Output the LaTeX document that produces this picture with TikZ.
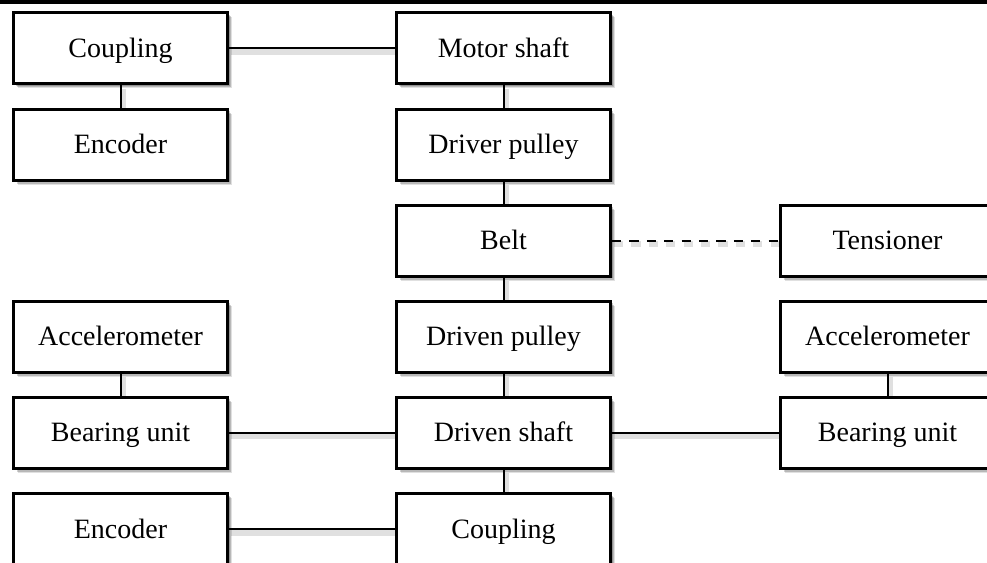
\documentclass[tikz,border=0pt]{standalone}
\usepackage{fontspec}
\setmainfont{Liberation Serif}
\usetikzlibrary{shadows,backgrounds}
\begin{document}
\begin{tikzpicture}[x=0.5pt,y=-0.5pt,
  box/.style={draw, line width=1.5pt, fill=white, minimum width=107pt, minimum height=35.5pt,
    inner sep=0pt, text height=9.3pt, text depth=0pt, font=\fontsize{14}{16}\selectfont,
    drop shadow={shadow xshift=2.2pt, shadow yshift=-2.4pt, opacity=0.12, fill=black},
    drop shadow={shadow xshift=1.6pt, shadow yshift=-1.8pt, opacity=0.18, fill=black},
    drop shadow={shadow xshift=1pt, shadow yshift=-1.2pt, opacity=0.2, fill=black}},
  link/.style={line width=1pt},
  dashlink/.style={line width=1pt, dash pattern=on 4.6pt off 4.1pt},
  linkshadow/.style={line width=3pt, black!12, transform canvas={xshift=1pt,yshift=-1.8pt}}]
\useasboundingbox (0,0) rectangle (987,563);
\fill (0,0) rectangle (987,4);
% left column
\node[box] (L1) at (120.5,48) {Coupling};
\node[box] (L2) at (120.5,144.5) {Encoder};
\node[box] (L4) at (120.5,336.5) {Accelerometer};
\node[box] (L5) at (120.5,432.5) {Bearing unit};
\node[box] (L6) at (120.5,529) {Encoder};
% middle column
\node[box] (M1) at (503.5,48) {Motor shaft};
\node[box] (M2) at (503.5,144.5) {Driver pulley};
\node[box] (M3) at (503.5,240.5) {Belt};
\node[box] (M4) at (503.5,336.5) {Driven pulley};
\node[box] (M5) at (503.5,432.5) {Driven shaft};
\node[box] (M6) at (503.5,529) {Coupling};
% right column
\node[box] (R3) at (887.5,240.5) {Tensioner};
\node[box] (R4) at (887.5,336.5) {Accelerometer};
\node[box] (R5) at (887.5,432.5) {Bearing unit};
% connector shadows
\begin{scope}[on background layer]
\draw[linkshadow] (L1) -- (M1);
\draw[linkshadow] (L1) -- (L2);
\draw[linkshadow] (M1) -- (M2);
\draw[linkshadow] (M2) -- (M3);
\draw[linkshadow] (M3) -- (M4);
\draw[linkshadow] (M4) -- (M5);
\draw[linkshadow] (M5) -- (M6);
\draw[linkshadow] (L4) -- (L5);
\draw[linkshadow] (R4) -- (R5);
\draw[linkshadow] (L5) -- (M5);
\draw[linkshadow] (M5) -- (R5);
\draw[linkshadow] (L6) -- (M6);
\draw[linkshadow, dash pattern=on 4.6pt off 4.1pt] (M3) -- (R3);
\end{scope}
% connectors
\draw[link] (L1) -- (M1);
\draw[link] (L1) -- (L2);
\draw[link] (M1) -- (M2);
\draw[link] (M2) -- (M3);
\draw[link] (M3) -- (M4);
\draw[link] (M4) -- (M5);
\draw[link] (M5) -- (M6);
\draw[link] (L4) -- (L5);
\draw[link] (R4) -- (R5);
\draw[link] (L5) -- (M5);
\draw[link] (M5) -- (R5);
\draw[link] (L6) -- (M6);
\draw[dashlink] (M3) -- (R3);
\end{tikzpicture}
\end{document}
